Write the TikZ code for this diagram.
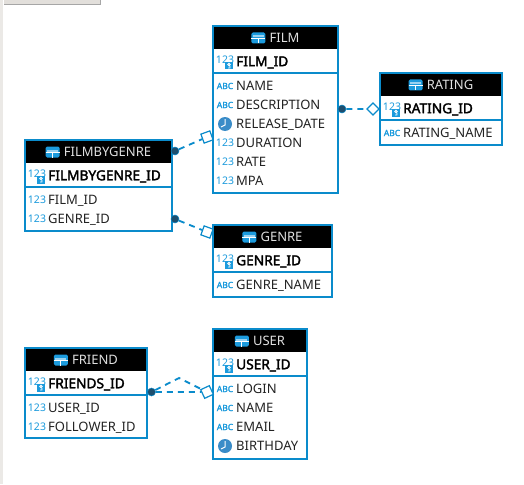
\documentclass[tikz,border=0pt]{standalone}
\usepackage{fontspec}
\setmainfont{Noto Sans}[AutoFakeBold=2.2]
\definecolor{tableblue}{HTML}{0A8BCB}
\definecolor{iconblue}{HTML}{1C9BDD}
\definecolor{clockblue}{HTML}{3A8CC8}
\definecolor{dotblue}{HTML}{1D4E6E}
\definecolor{tabgray}{HTML}{E2DFDB}
\definecolor{textgray}{HTML}{222222}
\tikzset{
  tablebox/.style={rectangle, fill=white, inner sep=0pt, outer sep=0pt, anchor=north west},
  tableline/.style={draw=tableblue, line width=2.4pt},
  rowline/.style={draw=tableblue, line width=1.2pt},
  headtext/.style={inner sep=0pt, text=white!88!black, font=\fontsize{13}{15}\selectfont, text height=9.5pt, text depth=0pt},
  coltext/.style={inner sep=0pt, anchor=west, text=textgray, font=\fontsize{13}{15}\selectfont, text height=9.5pt, text depth=0pt},
  keytext/.style={coltext, text=black, font=\fontsize{13.7}{15}\selectfont\bfseries},
  refdot/.style={circle, fill=dotblue, draw=tableblue, line width=.5pt, minimum size=8pt, inner sep=0pt},
  refend/.style={rectangle, fill=white, draw=tableblue, line width=1.2pt, minimum size=8.5pt, inner sep=0pt},
  tiltend/.style={refend, minimum size=9.5pt},
  reflink/.style={draw=tableblue, line width=1.8pt, dash pattern=on 6pt off 5pt},
  tableicon/.pic={
    \fill[iconblue, rounded corners=1.5pt] (-7,-5.5) rectangle (7,5.5);
    \fill[iconblue!45!white] (-5.5,-2.5) rectangle (5.5,-.5);
    \draw[white, line width=.8pt] (-7,0) -- (7,0) (0,0) -- (0,5.5);
  },
  numicon/.pic={
    \node[inner sep=0pt, text=iconblue, font=\fontsize{10.5}{12}\selectfont] (-t) at (0,0) {123};
  },
  abcicon/.pic={
    \node[inner sep=0pt, text=iconblue, font=\fontsize{8.5}{10}\selectfont\bfseries] (-t) at (0,0) {ABC};
  },
  keyicon/.pic={
    \node[inner sep=0pt, text=iconblue, font=\fontsize{10.5}{12}\selectfont] (-t) at (0,-2) {123};
    \fill[iconblue] (0,.5) rectangle (8,8);
    \draw[white, line width=.9pt] (4,3) circle (1.3pt) (5,4.5) -- (5,6.5) -- (3,6.5);
  },
  clockicon/.pic={
    \fill[clockblue] (0,0) circle (7pt);
    \draw[white, line width=1pt] (0,-5) -- (0,1) -- (-4,3);
  },
}
% one table: name, x, y, width, height, title
\newcommand{\dbtable}[6]{
  \node[tablebox, minimum width=#4pt, minimum height=#5pt] (#1) at (#2,#3) {};
  \fill[black] (#1.north west) rectangle ([shift={(#4,23)}]#1.north west);
  \draw[rowline] ([yshift=-47pt]#1.north west) -- ([yshift=-47pt]#1.north east);
  \draw[tableline] (#1.north west) rectangle (#1.south east);
  \node[headtext] (#1title) at ([shift={(9,12)}]#1.north) {#6};
  \pic at ([xshift=-11pt]#1title.west) {tableicon};
}
% one row of a table: table, row name, y offset, icon, text, style
\newcommand{\dbrow}[6]{
  \node[#6] (#2) at ([shift={(23,#3)}]#1.north west) {#5};
  \pic (#2icon) at ([xshift=-11pt]#2.west) {#4};
}
\begin{document}
\begin{tikzpicture}[x=1pt,y=-1pt]
\useasboundingbox (0,0) rectangle (524,484);
% window edge
\fill[tabgray!70!white] (0,0) rectangle (3,484);
\fill[tabgray] (4,0) rectangle (100,4);
\draw[gray!70, line width=1pt] (4,4.5) -- (100.5,4.5) -- (100.5,0);

\dbtable{film}{213}{26}{125}{167}{FILM}
\dbrow{film}{filmid}{35.5}{keyicon}{FILM\_ID}{keytext}
\dbrow{film}{filmname}{60}{abcicon}{NAME}{coltext}
\dbrow{film}{filmdesc}{79}{abcicon}{DESCRIPTION}{coltext}
\dbrow{film}{filmdate}{98}{clockicon}{RELEASE\_DATE}{coltext}
\dbrow{film}{filmdur}{117}{numicon}{DURATION}{coltext}
\dbrow{film}{filmrate}{136}{numicon}{RATE}{coltext}
\dbrow{film}{filmmpa}{155}{numicon}{MPA}{coltext}

\dbtable{rating}{380}{73}{122}{72}{RATING}
\dbrow{rating}{ratingid}{35.5}{keyicon}{RATING\_ID}{keytext}
\dbrow{rating}{ratingname}{60}{abcicon}{RATING\_NAME}{coltext}

\dbtable{fbg}{25}{140}{147}{91}{FILMBYGENRE}
\dbrow{fbg}{fbgid}{35.5}{keyicon}{FILMBYGENRE\_ID}{keytext}
\dbrow{fbg}{fbgfilm}{60}{numicon}{FILM\_ID}{coltext}
\dbrow{fbg}{fbggenre}{79}{numicon}{GENRE\_ID}{coltext}

\dbtable{genre}{213}{225}{119}{72}{GENRE}
\dbrow{genre}{genreid}{35.5}{keyicon}{GENRE\_ID}{keytext}
\dbrow{genre}{genrename}{60}{abcicon}{GENRE\_NAME}{coltext}

\dbtable{friend}{25}{348}{122}{90}{FRIEND}
\dbrow{friend}{friendid}{35.5}{keyicon}{FRIENDS\_ID}{keytext}
\dbrow{friend}{frienduser}{60}{numicon}{USER\_ID}{coltext}
\dbrow{friend}{friendfol}{79}{numicon}{FOLLOWER\_ID}{coltext}

\dbtable{user}{213}{329}{94}{130}{USER}
\dbrow{user}{userid}{35.5}{keyicon}{USER\_ID}{keytext}
\dbrow{user}{userlogin}{60}{abcicon}{LOGIN}{coltext}
\dbrow{user}{username}{79}{abcicon}{NAME}{coltext}
\dbrow{user}{useremail}{98}{abcicon}{EMAIL}{coltext}
\dbrow{user}{userbirth}{117}{clockicon}{BIRTHDAY}{coltext}

% connectors
\node[refdot] (filmdot) at (342,109) {};
\node[refend, rotate=45] (ratingend) at (373,109) {};
\draw[reflink] (filmdot) -- (ratingend);

\node[refdot] (fbgdota) at (175,151) {};
\node[tiltend, rotate=20] (filmend) at (207,137) {};
\draw[reflink] (fbgdota) -- (filmend);

\node[refdot] (fbgdotb) at (175,219) {};
\node[tiltend, rotate=-20] (genreend) at (207,232) {};
\draw[reflink] (fbgdotb) -- (genreend);

\node[refdot] (frienddot) at (151.5,392) {};
\node[tiltend, rotate=25] (userend) at (207,392) {};
\coordinate (friendbend) at (179,378);
\draw[reflink] (frienddot) -- (userend);
\draw[reflink] (frienddot) -- (friendbend) -- (userend);
\end{tikzpicture}
\end{document}
